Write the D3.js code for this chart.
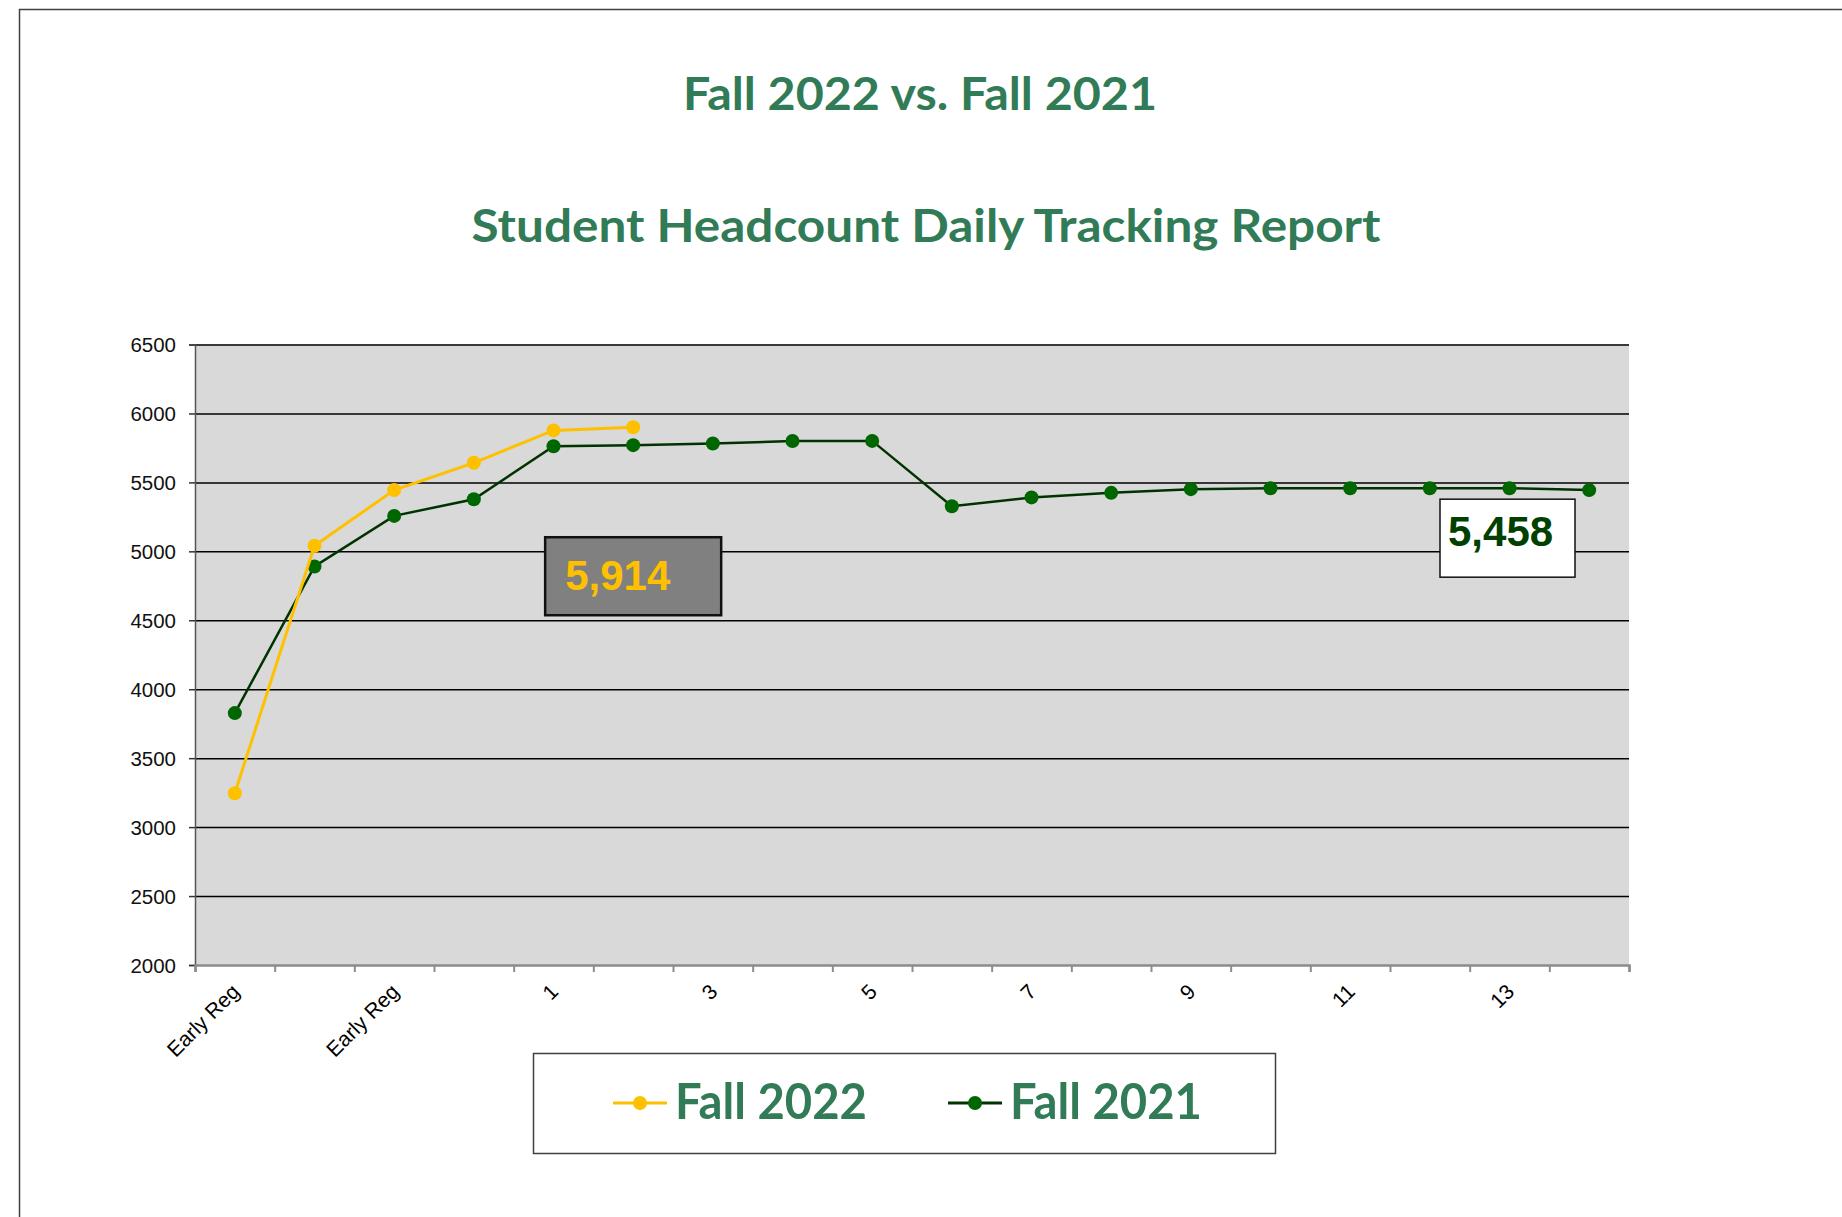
<!DOCTYPE html>
<html>
<head>
<meta charset="utf-8">
<script src="https://cdn.jsdelivr.net/npm/d3@7"></script>
<style>
  body { margin: 0; background: #fff; }
  svg { display: block; }
</style>
</head>
<body>
<svg width="1842" height="1217"></svg>
<script>
// categories along the x axis (every second one is labelled)
const dayLabels = ["Early Reg", "Early Reg", "Early Reg", "Early Reg",
  "1", "2", "3", "4", "5", "6", "7", "8", "9", "10", "11", "12", "13", "14"];

// headcount values
const fall2022 = [3246, 5041, 5444, 5642, 5877, 5900];
const fall2021 = [3827, 4890, 5257, 5378, 5762, 5770, 5782, 5800, 5801,
  5327, 5391, 5424, 5451, 5458, 5458, 5458, 5458, 5444];

const yTicks = [2000, 2500, 3000, 3500, 4000, 4500, 5000, 5500, 6000, 6500];

const titles = ["Fall 2022 vs. Fall 2021", "Student Headcount Daily Tracking Report"];
const seriesNames = ["Fall 2022", "Fall 2021"];
const callouts = [
  { series: 0, index: 5, text: "5,914" },
  { series: 1, index: 16, text: "5,458" }
];

const gold = "#FFC000";
const darkGreen = "#003300";
const markerGreen = "#006600";
const titleGreen = "#317B57";

var svg = d3.select('svg');

// cadre du graphique
svg.append('rect')
  .attr('x', 19.5).attr('y', 9.5)
  .attr('width', 2000).attr('height', 2000)
  .attr('fill', 'none')
  .attr('stroke', '#404040')
  .attr('stroke-width', 1.5);

// titres
svg.append('text')
  .attr('x', 920).attr('y', 110)
  .attr('text-anchor', 'middle')
  .attr('textLength', 474).attr('lengthAdjust', 'spacingAndGlyphs')
  .style('font-family', 'Lato, "Open Sans", sans-serif')
  .style('font-weight', 'bold')
  .style('font-size', '46px')
  .style('fill', titleGreen)
  .text(titles[0]);

svg.append('text')
  .attr('x', 926).attr('y', 242)
  .attr('text-anchor', 'middle')
  .attr('textLength', 909).attr('lengthAdjust', 'spacingAndGlyphs')
  .style('font-family', 'Lato, "Open Sans", sans-serif')
  .style('font-weight', 'bold')
  .style('font-size', '46px')
  .style('fill', titleGreen)
  .text(titles[1]);

// zone de tracé
const plot = { left: 195, right: 1629, top: 344.5, bottom: 965 };

const xScale = d3.scaleBand()
  .domain(d3.range(dayLabels.length))
  .range([plot.left, plot.right])
  .padding(0);
const xEdges = d3.scaleLinear()
  .domain([0, dayLabels.length])
  .range([plot.left, plot.right]);
const yScale = d3.scaleLinear()
  .domain([2000, 6500])
  .range([plot.bottom, plot.top]);

const cx = i => xScale(i) + xScale.bandwidth() / 2;

svg.append('rect')
  .attr('x', plot.left).attr('y', plot.top)
  .attr('width', plot.right - plot.left)
  .attr('height', plot.bottom - plot.top)
  .attr('fill', '#D9D9D9');

// grille horizontale
const grid = svg.append('g')
  .attr('transform', `translate(${plot.left},0)`)
  .call(d3.axisLeft(yScale).tickValues(yTicks.slice(1)).tickSize(-(plot.right - plot.left)).tickFormat(''));
grid.select('.domain').remove();
grid.selectAll('line').attr('stroke', '#000').attr('stroke-width', 1.5);

// axe des y
const yAxis = svg.append('g')
  .attr('transform', `translate(${plot.left},0)`)
  .call(d3.axisLeft(yScale).tickValues(yTicks).tickSize(6).tickPadding(13).tickFormat(d3.format('d')));
yAxis.select('.domain').attr('stroke', '#555').attr('stroke-width', 1.5);
yAxis.selectAll('line').attr('stroke', '#333').attr('stroke-width', 1.5);
yAxis.selectAll('text')
  .style('font-family', 'Arial, "Liberation Sans", sans-serif')
  .style('font-size', '20.5px')
  .attr('fill', '#111')
  .attr('dy', '0.36em');

// axe des x : graduations aux limites des catégories
const xAxis = svg.append('g')
  .attr('transform', `translate(0,${plot.bottom})`)
  .call(d3.axisBottom(xEdges).tickValues(d3.range(dayLabels.length + 1)).tickSize(7).tickFormat(''));
xAxis.select('.domain').attr('stroke', '#8C8C8C').attr('stroke-width', 2.5);
xAxis.selectAll('line').attr('stroke', '#8C8C8C').attr('stroke-width', 2);

// étiquettes des catégories, une sur deux
svg.append('g').selectAll('text')
  .data(dayLabels.map((d, i) => ({ d, i })).filter(o => o.i % 2 === 0))
  .enter().append('text')
  .attr('transform', o => `translate(${cx(o.i) + 6},${plot.bottom + 28}) rotate(-45)`)
  .attr('text-anchor', 'end')
  .style('font-family', 'Arial, "Liberation Sans", sans-serif')
  .style('font-size', '21px')
  .attr('fill', '#000')
  .text(o => o.d);

// lignes
const line = d3.line()
  .x((d, i) => cx(i))
  .y(d => yScale(d));

svg.append('path')
  .datum(fall2021)
  .attr('d', line)
  .attr('fill', 'none')
  .attr('stroke', darkGreen)
  .attr('stroke-width', 2.5);

svg.append('g').selectAll('circle')
  .data(fall2021)
  .enter().append('circle')
  .attr('cx', (d, i) => cx(i))
  .attr('cy', d => yScale(d))
  .attr('r', 7)
  .attr('fill', markerGreen);

svg.append('path')
  .datum(fall2022)
  .attr('d', line)
  .attr('fill', 'none')
  .attr('stroke', gold)
  .attr('stroke-width', 3);

svg.append('g').selectAll('circle')
  .data(fall2022)
  .enter().append('circle')
  .attr('cx', (d, i) => cx(i))
  .attr('cy', d => yScale(d))
  .attr('r', 7)
  .attr('fill', gold);

// étiquettes de valeur
const calloutStyle = [
  { fill: '#808080', stroke: '#111', sw: 2.5, color: gold, w: 176, h: 78, dy: 110, pad: 20, baseline: 53 },
  { fill: '#FFFFFF', stroke: '#111', sw: 1.5, color: '#004000', w: 135, h: 78, dy: 11, pad: 8, baseline: 47 }
];
callouts.forEach(c => {
  const s = calloutStyle[c.series];
  const values = c.series === 0 ? fall2022 : fall2021;
  const bx = cx(c.index) - s.w / 2 - (c.series === 1 ? 2 : 0);
  const by = yScale(values[c.index]) + s.dy;
  svg.append('rect')
    .attr('x', bx).attr('y', by)
    .attr('width', s.w).attr('height', s.h)
    .attr('fill', s.fill)
    .attr('stroke', s.stroke)
    .attr('stroke-width', s.sw);
  svg.append('text')
    .attr('x', bx + s.pad).attr('y', by + s.baseline)
    .style('font-family', 'Arial, "Liberation Sans", sans-serif')
    .style('font-weight', 'bold')
    .style('font-size', '42px')
    .attr('fill', s.color)
    .text(c.text);
});

// légende
const legend = svg.append('g');
legend.append('rect')
  .attr('x', 533.5).attr('y', 1053.5)
  .attr('width', 742).attr('height', 100)
  .attr('fill', '#fff')
  .attr('stroke', '#404040')
  .attr('stroke-width', 1.5);

const legendItems = [
  { name: seriesNames[0], line: gold, dot: gold, x: 613 },
  { name: seriesNames[1], line: darkGreen, dot: markerGreen, x: 948 }
];
legendItems.forEach(it => {
  legend.append('line')
    .attr('x1', it.x).attr('x2', it.x + 54)
    .attr('y1', 1103).attr('y2', 1103)
    .attr('stroke', it.line)
    .attr('stroke-width', 3);
  legend.append('circle')
    .attr('cx', it.x + 27).attr('cy', 1103)
    .attr('r', 7)
    .attr('fill', it.dot);
  legend.append('text')
    .attr('x', it.x + 62).attr('y', 1119)
    .attr('textLength', 192).attr('lengthAdjust', 'spacingAndGlyphs')
    .style('font-family', 'Lato, "Open Sans", sans-serif')
    .style('font-weight', 'bold')
    .style('font-size', '50px')
    .attr('fill', titleGreen)
    .text(it.name);
});
</script>
</body>
</html>
